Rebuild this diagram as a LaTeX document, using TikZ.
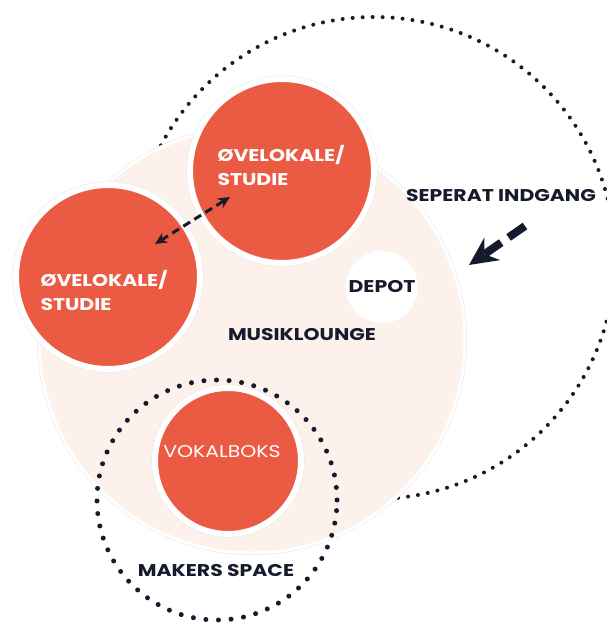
\documentclass[tikz,border=0pt]{standalone}
\usepackage{fontspec}
\setmainfont{Poppins}[FakeStretch=1.2]
\usetikzlibrary{arrows.meta}
\definecolor{rumrod}{HTML}{EB5B43}
\definecolor{lounge}{HTML}{FDF1EC}
\definecolor{navy}{HTML}{151A2C}

\begin{document}
\begin{tikzpicture}[x=1pt,y=-1pt,
    rum/.style={circle,inner sep=0pt,fill=rumrod,draw=white,line width=6pt,
                preaction={draw=gray!20,line width=7pt}},
    tekst/.style={inner sep=0pt,text=navy,font=\bfseries\fontsize{17}{24}\selectfont},
    prikker/.style={draw=navy,line cap=round}]
        \useasboundingbox (0,0) rectangle (607,627);
        \clip (0,0) rectangle (607,627);
        % stor prikket cirkel
        \draw[prikker,line width=4pt,dash pattern=on 0pt off 10pt] (374,258) circle (241pt);
        % musiklounge
        \node[circle,inner sep=0pt,minimum size=426pt,fill=lounge,draw=white,line width=3pt,
              preaction={draw=gray!20,line width=4pt}] (lounge) at (252,340) {};
        \node[circle,inner sep=0pt,minimum size=72pt,fill=white] (depot) at (382,287) {};
        % rum
        \node[rum,minimum size=184pt] (ovel1) at (282,171) {};
        \node[rum,minimum size=184pt] (ovel2) at (108,277) {};
        \node[rum,minimum size=146pt] (vokal) at (228,461) {};
        % makers space
        \draw[prikker,line width=5pt,dash pattern=on 0pt off 12.6pt] (217,500) circle (120pt);

        % pile
        \coordinate (pilA) at (155,244);
        \coordinate (pilB) at (230,197);
        \draw[navy,line width=3pt,dash pattern=on 8pt off 5pt,
              {Stealth[length=12pt,width=11pt]}-{Stealth[length=12pt,width=11pt]}] (pilA) -- (pilB);
        \coordinate (indA) at (525,226);
        \coordinate (indB) at (469,265);
        \draw[navy,line width=8pt,dash pattern=on 20pt off 9pt,
              -{Stealth[length=28pt,width=27pt]}] (indA) -- (indB);

        % tekster
        \node[tekst,text=white,align=left] (t1) at (281,165) {ØVELOKALE/\\STUDIE};
        \node[tekst,text=white,align=left] (t2) at (104,290) {ØVELOKALE/\\STUDIE};
        \node[tekst] (t3) at (382,287) {DEPOT};
        \node[tekst] (t4) at (302,335) {MUSIKLOUNGE};
        \node[tekst] (t5) at (501,196) {SEPERAT INDGANG};
        \node[tekst] (t6) at (216,571) {MAKERS SPACE};
        \node[inner sep=0pt,text=white,font=\fontsize{17}{24}\selectfont] (t7) at (222,452) {VOKALBOKS};
\end{tikzpicture}
\end{document}
